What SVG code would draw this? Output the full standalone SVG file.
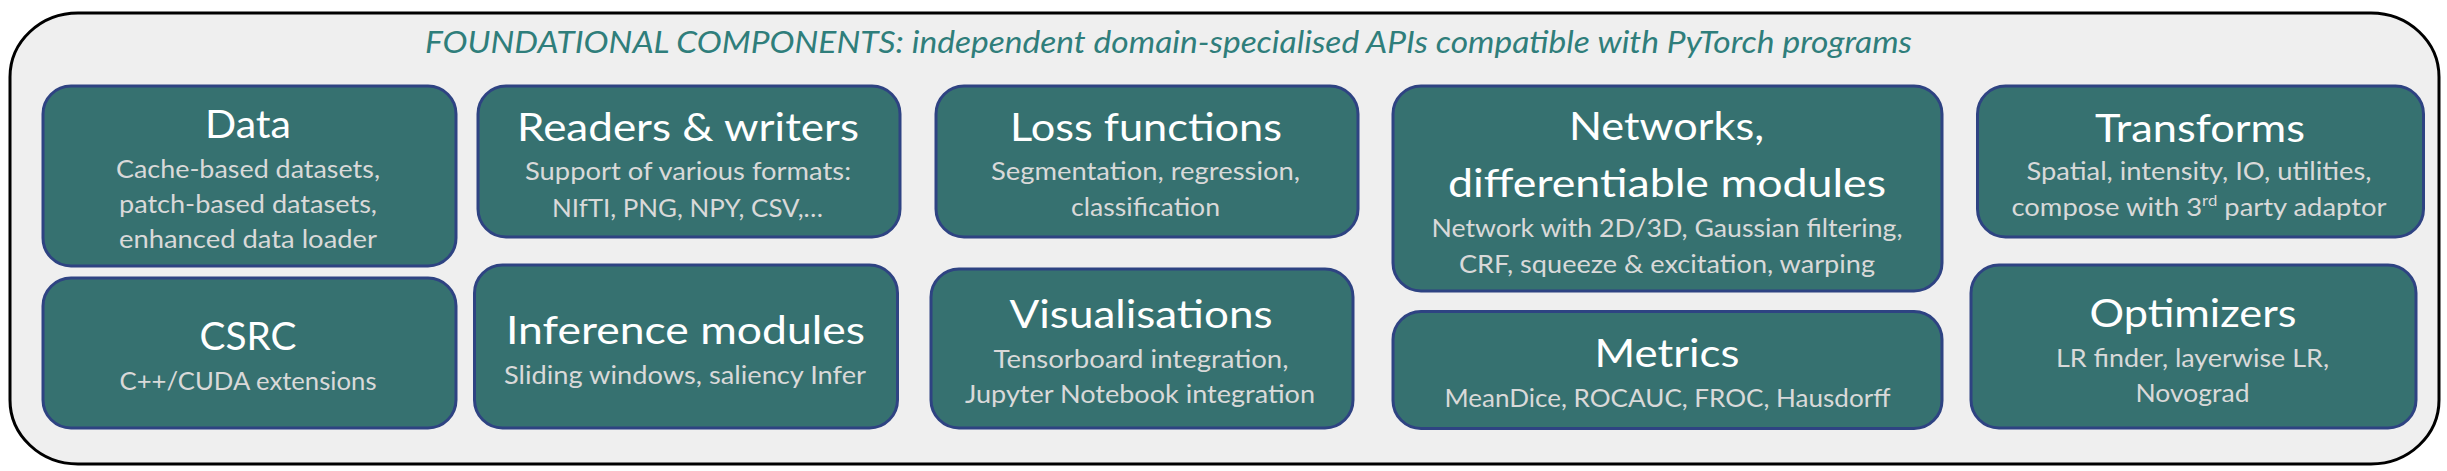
<svg xmlns="http://www.w3.org/2000/svg" width="2447" height="471" viewBox="0 0 2447 471">
<defs>
<style>
.bg{fill:#efefef;stroke:#000;stroke-width:3}
.box{fill:#367170;stroke:#2e4382;stroke-width:3}
.hd{font-family:Lato,"Liberation Sans",sans-serif;font-size:39px;fill:#ffffff;text-anchor:middle}
.sb{font-family:Lato,"Liberation Sans",sans-serif;font-size:24.5px;fill:#d9d9d9;text-anchor:middle}
.tt{font-family:Lato,"Liberation Sans",sans-serif;font-size:31px;font-style:italic;fill:#2f7e7b;text-anchor:middle}
</style>
</defs>
<rect width="2447" height="471" fill="#ffffff"/>
<rect class="bg" x="10" y="13" width="2429" height="451" rx="68" ry="64"/>
<text class="tt" x="1168.5" y="53" textLength="1487" lengthAdjust="spacingAndGlyphs">FOUNDATIONAL COMPONENTS: independent domain-specialised APIs compatible with PyTorch programs</text>
<g id="connectors"></g>
<g id="data">
<rect class="box" x="43" y="86" width="413" height="180" rx="28"/>
<text class="hd" x="248" y="138" textLength="86" lengthAdjust="spacingAndGlyphs">Data</text>
<text class="sb" x="248" y="178" textLength="264" lengthAdjust="spacingAndGlyphs">Cache-based datasets,</text>
<text class="sb" x="248" y="213" textLength="258" lengthAdjust="spacingAndGlyphs">patch-based datasets,</text>
<text class="sb" x="248" y="248" textLength="258" lengthAdjust="spacingAndGlyphs">enhanced data loader</text>
</g>
<g id="csrc">
<rect class="box" x="43" y="278" width="413" height="150" rx="28"/>
<text class="hd" x="248" y="350" textLength="97" lengthAdjust="spacingAndGlyphs">CSRC</text>
<text class="sb" x="248" y="390" textLength="257" lengthAdjust="spacingAndGlyphs">C++/CUDA extensions</text>
</g>
<g id="readers">
<rect class="box" x="478" y="86" width="422" height="151" rx="28"/>
<text class="hd" x="688" y="141" textLength="342" lengthAdjust="spacingAndGlyphs">Readers &amp; writers</text>
<text class="sb" x="688" y="180" textLength="326" lengthAdjust="spacingAndGlyphs">Support of various formats:</text>
<text class="sb" x="687.5" y="216.5" textLength="271" lengthAdjust="spacingAndGlyphs">NIfTI, PNG, NPY, CSV,…</text>
</g>
<g id="inference">
<rect class="box" x="474.5" y="265" width="423" height="163" rx="28"/>
<text class="hd" x="685.5" y="344" textLength="359" lengthAdjust="spacingAndGlyphs">Inference modules</text>
<text class="sb" x="685" y="384" textLength="362" lengthAdjust="spacingAndGlyphs">Sliding windows, saliency Infer</text>
</g>
<g id="loss">
<rect class="box" x="936" y="86" width="422" height="151" rx="28"/>
<text class="hd" x="1146" y="141" textLength="272" lengthAdjust="spacingAndGlyphs">Loss functions</text>
<text class="sb" x="1145.5" y="180" textLength="309" lengthAdjust="spacingAndGlyphs">Segmentation, regression,</text>
<text class="sb" x="1145.5" y="216" textLength="149" lengthAdjust="spacingAndGlyphs">classification</text>
</g>
<g id="visualisations">
<rect class="box" x="931" y="269" width="422" height="159" rx="28"/>
<text class="hd" x="1141" y="328" textLength="263" lengthAdjust="spacingAndGlyphs">Visualisations</text>
<text class="sb" x="1141" y="368" textLength="295" lengthAdjust="spacingAndGlyphs">Tensorboard integration,</text>
<text class="sb" x="1140" y="403" textLength="350" lengthAdjust="spacingAndGlyphs">Jupyter Notebook integration</text>
</g>
<g id="networks">
<rect class="box" x="1393" y="86" width="549" height="205" rx="28"/>
<text class="hd" x="1666.5" y="140" textLength="195" lengthAdjust="spacingAndGlyphs">Networks,</text>
<text class="hd" x="1667" y="196.5" textLength="438" lengthAdjust="spacingAndGlyphs">differentiable modules</text>
<text class="sb" x="1667" y="237" textLength="471" lengthAdjust="spacingAndGlyphs">Network with 2D/3D, Gaussian filtering,</text>
<text class="sb" x="1667" y="272.5" textLength="416" lengthAdjust="spacingAndGlyphs">CRF, squeeze &amp; excitation, warping</text>
</g>
<g id="metrics">
<rect class="box" x="1393" y="311.5" width="549" height="117" rx="28"/>
<text class="hd" x="1667" y="367" textLength="145" lengthAdjust="spacingAndGlyphs">Metrics</text>
<text class="sb" x="1667.5" y="407" textLength="446" lengthAdjust="spacingAndGlyphs">MeanDice, ROCAUC, FROC, Hausdorff</text>
</g>
<g id="transforms">
<rect class="box" x="1977.5" y="86" width="446" height="151" rx="28"/>
<text class="hd" x="2200" y="141.5" textLength="210" lengthAdjust="spacingAndGlyphs">Transforms</text>
<text class="sb" x="2199" y="180" textLength="345" lengthAdjust="spacingAndGlyphs">Spatial, intensity, IO, utilities,</text>
<text class="sb" x="2199" y="216" textLength="375" lengthAdjust="spacingAndGlyphs">compose with 3<tspan font-size="15" dy="-10">rd</tspan><tspan dy="10"> party adaptor</tspan></text>
</g>
<g id="optimizers">
<rect class="box" x="1971" y="265" width="445" height="163" rx="28"/>
<text class="hd" x="2193" y="326.5" textLength="207" lengthAdjust="spacingAndGlyphs">Optimizers</text>
<text class="sb" x="2192.5" y="366.5" textLength="273" lengthAdjust="spacingAndGlyphs">LR finder, layerwise LR,</text>
<text class="sb" x="2192.5" y="401.5" textLength="114" lengthAdjust="spacingAndGlyphs">Novograd</text>
</g>
</svg>
